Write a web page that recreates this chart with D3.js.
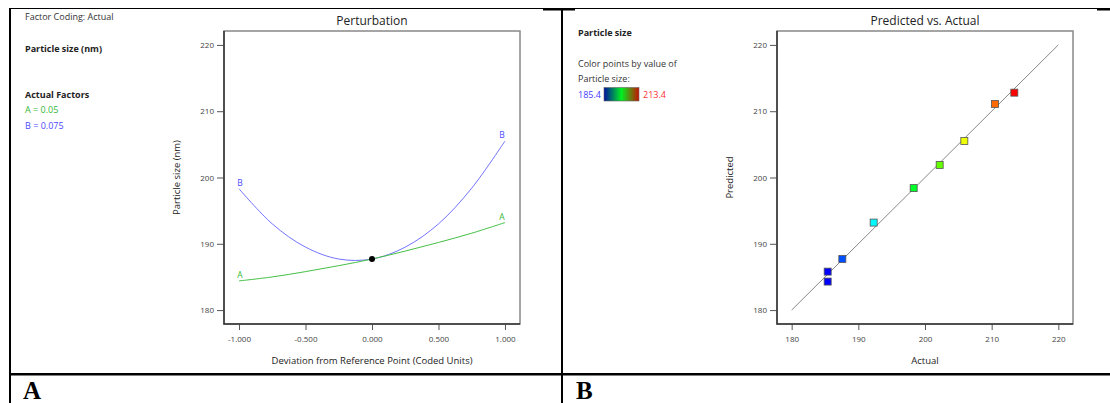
<html>
<head>
<meta charset="utf-8">
<script src="https://d3js.org/d3.v7.min.js"></script>
<style>
body { margin: 0; background: #fff; }
text { font-family: "Open Sans", "Noto Sans", sans-serif; }
.tick text { fill: #444; }
.tick line { stroke: #555; }
</style>
</head>
<body>
<div id="chart"></div>
<script>
// perturbation curves (panel A)
const perturbX = [-1, -0.75, -0.5, -0.25, 0, 0.25, 0.5, 0.75, 1];
const curveA = [184.4, 185.0, 185.8, 186.7, 187.7, 188.9, 190.2, 191.6, 193.2];
const curveB = [198.3, 193.0, 189.5, 187.7, 187.7, 189.5, 193.0, 198.4, 205.5];
const refPoint = [0, 187.7];
const perturbTicks = [-1, -0.5, 0, 0.5, 1];
const sizeTicks = [180, 190, 200, 210, 220];
const factorLabels = ["A = 0.05", "B = 0.075"];

// predicted vs actual (panel B)
const actual = [185.4, 185.4, 187.6, 192.3, 198.3, 202.2, 205.9, 210.5, 213.4];
const predicted = [185.8, 184.3, 187.7, 193.2, 198.4, 201.9, 205.5, 211.1, 212.8];
const colorRange = [185.4, 213.4];

var W = 1110, H = 403;
var svg = d3.select("#chart").append("svg").attr("width", W).attr("height", H);

// table borders
svg.append("rect").attr("x", 9).attr("y", 8).attr("width", W - 9).attr("height", 1).attr("fill", "#000");
svg.append("rect").attr("x", 543).attr("y", 8).attr("width", 32).attr("height", 2.5).attr("fill", "#000");
svg.append("rect").attr("x", 1097).attr("y", 8).attr("width", 13).attr("height", 2.5).attr("fill", "#000");
svg.append("rect").attr("x", 9).attr("y", 8).attr("width", 2).attr("height", H).attr("fill", "#000");
svg.append("rect").attr("x", 561).attr("y", 8).attr("width", 2).attr("height", H).attr("fill", "#000");
svg.append("rect").attr("x", 9).attr("y", 373).attr("width", W).attr("height", 2.5).attr("fill", "#000");

svg.append("text").attr("x", 23).attr("y", 399).text("A")
    .style("font-family", "Liberation Serif").style("font-weight", "bold").style("font-size", "25px");
svg.append("text").attr("x", 576).attr("y", 399).text("B")
    .style("font-family", "Liberation Serif").style("font-weight", "bold").style("font-size", "25px");

function frame(g, x0, x1, y0, y1) {
    g.append("rect").attr("x", x0).attr("y", y0).attr("width", x1 - x0).attr("height", y1 - y0)
        .attr("fill", "none").attr("stroke", "#888").attr("stroke-width", 1.5);
    g.append("path").attr("d", `M${x0},${y0}V${y1}H${x1}`)
        .attr("fill", "none").attr("stroke", "#333").attr("stroke-width", 1.5);
}

function axes(g, x, y, yTitleX, xTitle, yTitle, title, xFmt) {
    var r = x.range(), b = y.range()[0], t = y.range()[1];
    g.append("g").attr("transform", "translate(0," + b + ")")
        .call(d3.axisBottom(x).tickValues(xFmt ? perturbTicks : sizeTicks).tickFormat(xFmt || (d => String(d)))
            .tickSize(6).tickPadding(6))
        .call(a => a.select(".domain").remove())
        .selectAll("text").style("font-size", "8px");
    g.append("g").attr("transform", "translate(" + r[0] + ",0)")
        .call(d3.axisLeft(y).tickValues(sizeTicks).tickFormat(d => String(d)).tickSize(7).tickPadding(3))
        .call(a => a.select(".domain").remove())
        .selectAll("text").style("font-size", "8px");
    frame(g, r[0], r[1], t, b);
    var cx = (r[0] + r[1]) / 2;
    g.append("text").attr("x", cx).attr("y", 25).attr("text-anchor", "middle")
        .style("font-size", "12px").attr("fill", "#222").text(title);
    g.append("text").attr("x", cx).attr("y", 364).attr("text-anchor", "middle")
        .style("font-size", "9.5px").attr("fill", "#222").text(xTitle);
    g.append("text").attr("transform", "translate(" + yTitleX + "," + ((t + b) / 2) + ") rotate(-90)")
        .attr("text-anchor", "middle").style("font-size", "9.5px").attr("fill", "#222").text(yTitle);
}

// ---------- panel A ----------
var gA = svg.append("g");
var xA = d3.scaleLinear().domain([-1.113, 1.113]).range([224, 520]);
var yA = d3.scaleLinear().domain([177.9, 222.1]).range([324, 31]);
var fmt3 = d => (d < 0 ? "-" : "") + Math.abs(d).toFixed(3);
axes(gA, xA, yA, 180, "Deviation from Reference Point (Coded Units)", "Particle size (nm)", "Perturbation", fmt3);

var line = d3.line().curve(d3.curveCatmullRom);
[[curveB, "#7373ff", "#4a4aff", "B"], [curveA, "#44c044", "#33b833", "A"]].forEach(function (c) {
    var pts = perturbX.map((v, i) => [xA(v), yA(c[0][i])]);
    gA.append("path").attr("d", line(pts)).attr("fill", "none").attr("stroke", c[1]).attr("stroke-width", 1);
    gA.append("text").attr("x", pts[0][0] + 1).attr("y", pts[0][1] - 3).attr("text-anchor", "middle")
        .style("font-size", "8.5px").attr("fill", c[2]).text(c[3]);
    var e = pts[pts.length - 1];
    gA.append("text").attr("x", e[0] - 3).attr("y", e[1] - 3).attr("text-anchor", "middle")
        .style("font-size", "8.5px").attr("fill", c[2]).text(c[3]);
});
gA.append("circle").attr("cx", xA(refPoint[0])).attr("cy", yA(refPoint[1])).attr("r", 3).attr("fill", "#000");

gA.append("text").attr("x", 25).attr("y", 20).style("font-size", "9px").attr("fill", "#333").text("Factor Coding: Actual");
gA.append("text").attr("x", 25).attr("y", 51.5).style("font-size", "9px").style("font-weight", "bold").attr("fill", "#222").text("Particle size (nm)");
gA.append("text").attr("x", 25).attr("y", 98).style("font-size", "9px").style("font-weight", "bold").attr("fill", "#222").text("Actual Factors");
gA.append("text").attr("x", 25).attr("y", 113.3).style("font-size", "9px").attr("fill", "#33b833").text(factorLabels[0]);
gA.append("text").attr("x", 25).attr("y", 128.7).style("font-size", "9px").attr("fill", "#4a4aff").text(factorLabels[1]);

// ---------- panel B ----------
var gB = svg.append("g");
var xB = d3.scaleLinear().domain([177.8, 222.2]).range([777, 1073]);
var yB = d3.scaleLinear().domain([177.9, 222.1]).range([324, 31]);
axes(gB, xB, yB, 733, "Actual", "Predicted", "Predicted vs. Actual", null);

gB.append("line").attr("x1", xB(180)).attr("y1", yB(180)).attr("x2", xB(220)).attr("y2", yB(220))
    .attr("stroke", "#888").attr("stroke-width", 1);

var t = d3.scaleLinear().domain(colorRange).range([0, 1]);
var pointColor = d3.scaleLinear().domain([0, 0.25, 0.5, 0.75, 1])
    .range(["#0000ff", "#00ffff", "#00ff00", "#ffff00", "#ff0000"]);
gB.selectAll(".pt").data(actual).enter().append("rect")
    .attr("x", (d) => xB(d) - 3.5).attr("y", (d, i) => yB(predicted[i]) - 3.5)
    .attr("width", 7).attr("height", 7)
    .attr("fill", d => pointColor(t(d))).attr("stroke", "#555").attr("stroke-width", 0.8);

// legend
gB.append("text").attr("x", 578).attr("y", 36).style("font-size", "9px").style("font-weight", "bold").attr("fill", "#222").text("Particle size");
gB.append("text").attr("x", 578).attr("y", 66.7).style("font-size", "9px").attr("fill", "#333").text("Color points by value of");
gB.append("text").attr("x", 578).attr("y", 82.3).style("font-size", "9px").attr("fill", "#333").text("Particle size:");
gB.append("text").attr("x", 578).attr("y", 97.7).style("font-size", "9px").attr("fill", "#4040ff").text(colorRange[0]);
gB.append("text").attr("x", 643).attr("y", 97.7).style("font-size", "9px").attr("fill", "#ff3030").text(colorRange[1]);
var grad = svg.append("defs").append("linearGradient").attr("id", "cbar");
[["0%", "#0010a0"], ["50%", "#00f020"], ["100%", "#c81000"]].forEach(s =>
    grad.append("stop").attr("offset", s[0]).attr("stop-color", s[1]));
gB.append("rect").attr("x", 604).attr("y", 87.5).attr("width", 35).attr("height", 13.5)
    .attr("fill", "url(#cbar)").attr("stroke", "#666").attr("stroke-width", 0.6);
</script>
</body>
</html>
